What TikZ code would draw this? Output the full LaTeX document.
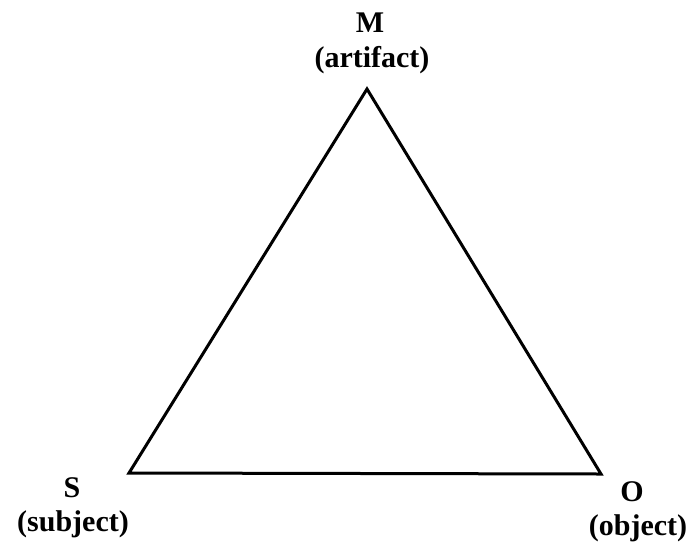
\documentclass[tikz,border=0pt]{standalone}
\usepackage{fontspec}
\setmainfont{Liberation Serif}
\begin{document}
\begin{tikzpicture}[x=1pt,y=-1pt,
  lbl/.style={font=\fontsize{30}{32}\selectfont\bfseries, inner sep=0pt, anchor=base},
  edge/.style={line width=3pt, line join=miter}]
\useasboundingbox (0,0) rectangle (690,544);
\coordinate (M) at (367,89);
\coordinate (S) at (129,473);
\coordinate (O) at (601,474);
\draw[edge] (M) -- (S) -- (O) -- cycle;
\node[lbl] (mt) at (370,32) {M};
\node[lbl] (ma) at (372,67) {(artifact)};
\node[lbl] (st) at (72,497) {S};
\node[lbl] (sa) at (73,531) {(subject)};
\node[lbl] (ot) at (632,501) {O};
\node[lbl] (oa) at (638,535) {(object)};
\end{tikzpicture}
\end{document}
